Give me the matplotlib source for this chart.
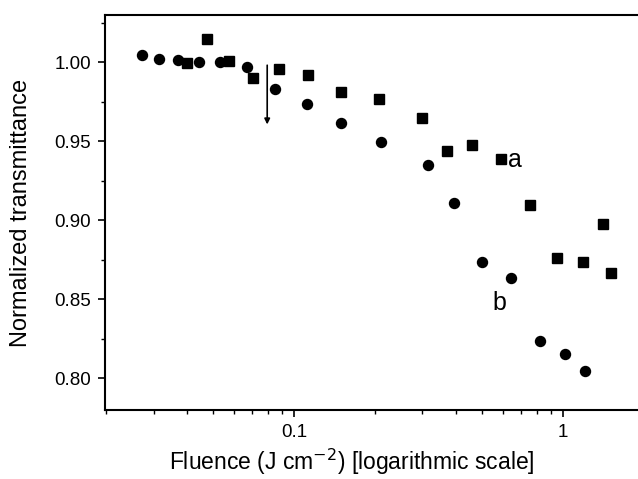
import numpy as np
import matplotlib.pyplot as plt
from matplotlib.ticker import FixedLocator, MultipleLocator, FormatStrFormatter

plt.rcParams['font.family'] = ['Liberation Sans', 'DejaVu Sans']

# curve a (squares)
fluence_a = [0.040, 0.0475, 0.0573, 0.0704, 0.0880, 0.1127, 0.1496, 0.207, 0.299,
             0.371, 0.459, 0.588, 0.754, 0.950, 1.186, 1.408, 1.508]
trans_a = [0.9994, 1.0146, 1.0006, 0.990, 0.9956, 0.9918, 0.981, 0.9766, 0.9646,
           0.9437, 0.9475, 0.9386, 0.910, 0.876, 0.874, 0.8975, 0.867]

# curve b (circles)
fluence_b = [0.0272, 0.0315, 0.0371, 0.0444, 0.0531, 0.0669, 0.0850, 0.1117, 0.1496,
             0.2106, 0.3148, 0.3934, 0.500, 0.641, 0.821, 1.017, 1.208]
trans_b = [1.0044, 1.0019, 1.0013, 1.000, 1.000, 0.9968, 0.9835, 0.974, 0.9614,
           0.9494, 0.9354, 0.9108, 0.874, 0.8633, 0.824, 0.8152, 0.8044]

arrow_x = 0.0794
arrow_y = (1.000, 0.959)

fig = plt.figure(figsize=(6.38, 4.79), dpi=100)
ax = fig.add_axes([0.1646, 0.144, 0.8354, 0.8246])

ax.plot(fluence_a, trans_a, 's', color='black', markersize=6.5, linestyle='none')
ax.plot(fluence_b, trans_b, 'o', color='black', markersize=7.2, linestyle='none')

ax.annotate('', xy=(arrow_x, arrow_y[1]), xytext=(arrow_x, arrow_y[0]),
            arrowprops=dict(arrowstyle='-|>', color='black', lw=1.2, mutation_scale=8))

ax.text(0.625, 0.9385, 'a', fontsize=18, va='center', ha='left')
ax.text(0.58, 0.848, 'b', fontsize=18, va='center', ha='center')

ax.set_xscale('log')
ax.set_xlim(0.0198, 1.9)
ax.set_ylim(0.78, 1.03)

ax.xaxis.set_major_locator(FixedLocator([0.1, 1]))
ax.xaxis.set_major_formatter(FormatStrFormatter('%g'))
ax.yaxis.set_major_locator(MultipleLocator(0.05))
ax.yaxis.set_minor_locator(MultipleLocator(0.025))
ax.yaxis.set_major_formatter(FormatStrFormatter('%.2f'))

ax.tick_params(which='major', direction='out', length=5, width=1.2, labelsize=13.5, pad=5)
ax.tick_params(which='minor', direction='out', length=3, width=1)

ax.spines['right'].set_visible(False)
for s in ['left', 'bottom', 'top']:
    ax.spines[s].set_linewidth(1.5)

ax.set_xlabel('Fluence (J cm$^{-2}$) [logarithmic scale]', fontsize=16.5)
ax.xaxis.set_label_coords(0.4625, -0.093)
ax.set_ylabel('Normalized transmittance', fontsize=17, labelpad=16)

fig.savefig('out.png', dpi=100)
